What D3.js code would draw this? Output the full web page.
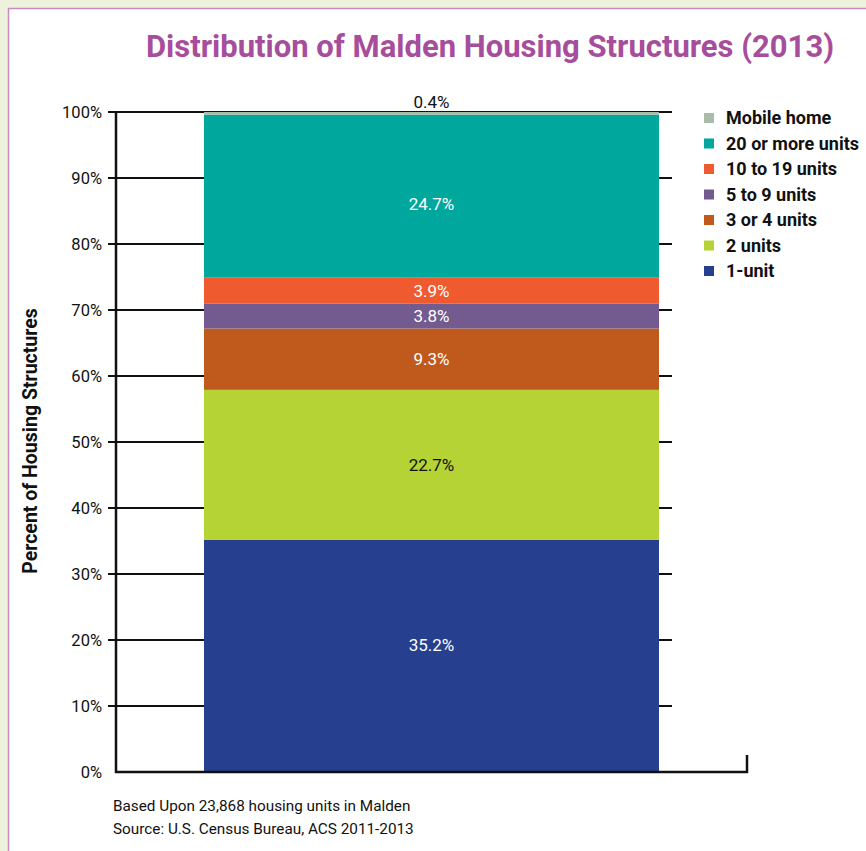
<!DOCTYPE html>
<html>
<head>
<meta charset="utf-8">
<script src="https://cdn.jsdelivr.net/npm/d3@7"></script>
<style>
  html, body { margin: 0; padding: 0; background: #eef2dc; }
  svg { display: block; }
</style>
</head>
<body>
<svg id="chart"></svg>
<script>
// chart data
const categories = ['1-unit', '2 units', '3 or 4 units', '5 to 9 units', '10 to 19 units', '20 or more units', 'Mobile home'];
const values = [35.2, 22.7, 9.3, 3.8, 3.9, 24.7, 0.4];
const colors = ['#26408f', '#b5d334', '#c05a1c', '#735a8f', '#f05a2f', '#00a79d', '#a9bba9'];
const labelColors = ['#fff', '#111', '#fff', '#fff', '#fff', '#fff', '#111'];
const yTicks = [0, 10, 20, 30, 40, 50, 60, 70, 80, 90, 100];
const title = 'Distribution of Malden Housing Structures (2013)';
const yTitle = 'Percent of Housing Structures';
const notes = ['Based Upon 23,868 housing units in Malden', 'Source: U.S. Census Bureau, ACS 2011-2013'];

const W = 866, H = 851;
const font = '"Liberation Sans Narrow", "Roboto", sans-serif';

const svg = d3.select('#chart').attr('width', W).attr('height', H);

// white panel with pink border
svg.append('rect')
  .attr('x', 8.5).attr('y', 8.5)
  .attr('width', W).attr('height', H)
  .attr('fill', '#fff')
  .attr('stroke', '#c98bc0')
  .attr('stroke-width', 1.5);

const y = d3.scaleLinear().domain([0, 100]).range([772, 112]);
const x = d3.scaleBand().domain(['Malden']).range([204, 659]).padding(0);

// grid lines with ticks
svg.append('g')
  .selectAll('line')
  .data(yTicks.filter(d => d > 0))
  .enter()
  .append('line')
  .attr('x1', 108).attr('x2', 672)
  .attr('y1', d => y(d)).attr('y2', d => y(d))
  .attr('stroke', '#111')
  .attr('stroke-width', 2);

svg.append('g')
  .selectAll('text')
  .data(yTicks)
  .enter()
  .append('text')
  .attr('x', 102)
  .attr('y', d => y(d) + 6)
  .attr('text-anchor', 'end')
  .attr('font-family', font)
  .attr('font-size', 16.5)
  .attr('fill', '#111')
  .text(d => d + '%');

// stacked bar
const row = { name: 'Malden' };
categories.forEach((c, i) => row[c] = values[i]);
const series = d3.stack().keys(categories)([row]);

svg.append('g')
  .selectAll('rect')
  .data(series)
  .enter()
  .append('rect')
  .attr('x', x('Malden'))
  .attr('width', x.bandwidth())
  .attr('y', d => y(d[0][1]))
  .attr('height', d => y(d[0][0]) - y(d[0][1]))
  .attr('fill', (d, i) => colors[i]);

// value labels (the big segments have their label nudged off-centre in the original)
const nudge = { '1-unit': -11, '20 or more units': 8 };
svg.append('g')
  .selectAll('text')
  .data(series)
  .enter()
  .append('text')
  .attr('x', x('Malden') + x.bandwidth() / 2)
  .attr('y', (d, i) => i === categories.length - 1
    ? y(d[0][1]) - 4
    : (y(d[0][0]) + y(d[0][1])) / 2 + 6 + (nudge[d.key] || 0))
  .attr('text-anchor', 'middle')
  .attr('font-family', font)
  .attr('font-size', 17)
  .attr('fill', (d, i) => labelColors[i])
  .text((d, i) => values[i].toFixed(1) + '%');

// axes frame
svg.append('line')
  .attr('x1', 116).attr('x2', 116)
  .attr('y1', y(100) - 1).attr('y2', y(0) + 1)
  .attr('stroke', '#111').attr('stroke-width', 2.5);
svg.append('path')
  .attr('d', `M115,${y(0)}H747V${y(0) - 17}`)
  .attr('fill', 'none')
  .attr('stroke', '#111').attr('stroke-width', 2.5);

// legend
const legend = svg.append('g')
  .selectAll('g')
  .data(categories.slice().reverse())
  .enter()
  .append('g')
  .attr('transform', (d, i) => `translate(704, ${118 + i * 25.5})`);
legend.append('rect')
  .attr('x', 0).attr('y', -5)
  .attr('width', 10).attr('height', 10)
  .attr('fill', d => colors[categories.indexOf(d)]);
legend.append('text')
  .attr('x', 22).attr('y', 6)
  .attr('font-family', font)
  .attr('font-weight', 'bold')
  .attr('font-size', 18)
  .attr('fill', '#111')
  .text(d => d);

// title
svg.append('text')
  .attr('x', 490).attr('y', 57)
  .attr('text-anchor', 'middle')
  .attr('font-family', font)
  .attr('font-weight', 'bold')
  .attr('font-size', 31)
  .attr('fill', '#a64d9c')
  .text(title);

// y title
svg.append('text')
  .attr('transform', 'translate(37, 441) rotate(-90)')
  .attr('text-anchor', 'middle')
  .attr('font-family', font)
  .attr('font-weight', 'bold')
  .attr('font-size', 19.5)
  .attr('fill', '#111')
  .text(yTitle);

// footnotes
svg.append('g')
  .selectAll('text')
  .data(notes)
  .enter()
  .append('text')
  .attr('x', 113)
  .attr('y', (d, i) => 811 + i * 23)
  .attr('font-family', font)
  .attr('font-size', 15.3)
  .attr('fill', '#111')
  .text(d => d);
</script>
</body>
</html>
